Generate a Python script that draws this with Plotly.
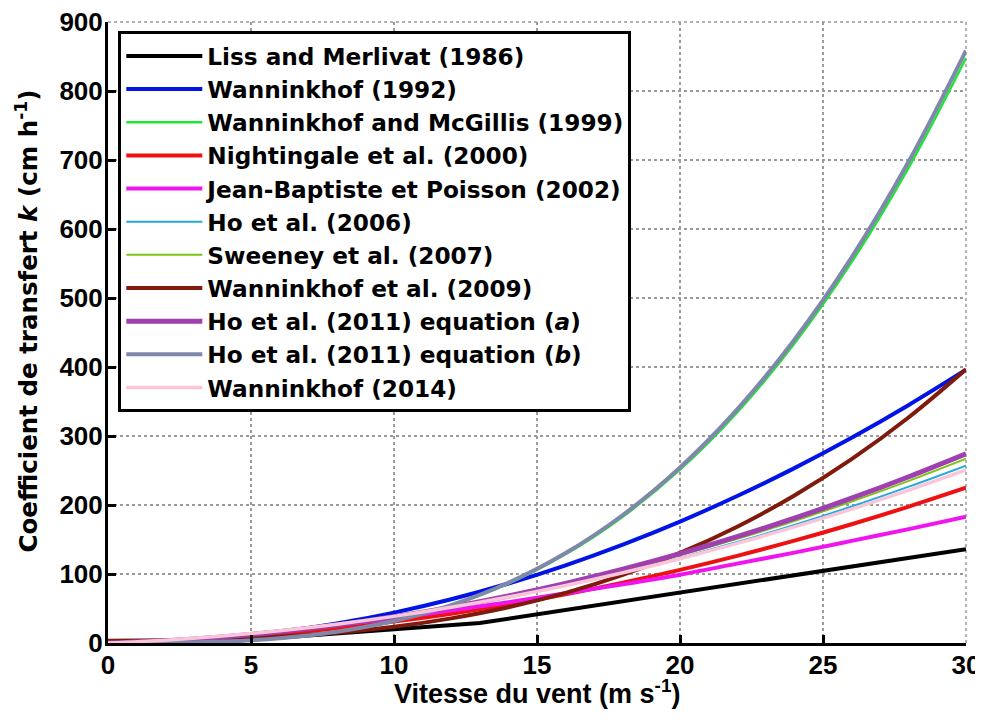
import plotly.graph_objects as go

# Wind speed grid (m/s)
wind = [0, 2, 4, 6, 8, 10, 12, 14, 16, 18, 20, 22, 24, 26, 28, 30]
wind_lm = [0, 3.6, 13, 30]

k_liss_merlivat_1986 = [0, 0.65, 29, 136]
k_wanninkhof_1992 = [0, 1.8, 7.0, 15.8, 28.2, 44, 63.4, 86.2, 112.6, 142.6, 176, 213, 253.4, 297.4, 345, 396]
k_wanninkhof_mcgillis_1999 = [0, 0.25, 2.0, 6.8, 16.1, 31.4, 54.3, 86.2, 128.6, 183.1, 251.2, 334.3, 434.1, 551.9, 689.3, 847.8]
k_nightingale_2000 = [0, 2.7, 7.1, 13.3, 21.3, 31, 42.5, 55.7, 70.7, 87.5, 106, 126.3, 148.3, 172.1, 197.7, 225]
k_jean_baptiste_2002 = [0.5, 3, 9, 17, 26, 36, 47, 59, 72, 85, 99, 115, 131, 148, 165, 183]
k_ho_2006 = [0, 3.7, 9.3, 16.9, 26.3, 37.7, 51, 66.2, 83.4, 102.4, 123.4, 146.3, 171.1, 197.8, 226.6, 257.1]
k_sweeney_2007 = [0, 3.5, 9.1, 16.7, 26.3, 38, 51.7, 67.5, 85.3, 105.1, 127, 150.9, 176.9, 204.9, 234.9, 267]
k_wanninkhof_2009 = [3.3, 3.9, 5.6, 9.1, 14.9, 23.5, 35.7, 51.8, 72.6, 98.7, 130.5, 168.6, 213.8, 266.4, 327.2, 396.7]
k_ho_2011a = [0, 3.3, 8.8, 16.4, 26.1, 38, 52, 68.2, 86.4, 106.9, 129.4, 154.1, 180.9, 209.9, 241, 274.2]
k_ho_2011b = [0, 0.25, 2.0, 6.9, 16.3, 31.8, 55, 87.3, 130.3, 185.5, 254.4, 338.6, 439.6, 558.9, 698.1, 858.6]
k_wanninkhof_2014 = [0, 4.1, 10, 17.8, 27.3, 38.6, 51.7, 66.6, 83.4, 101.9, 122.2, 144.3, 168.2, 194, 221.5, 250.8]

x_ticks = [0, 5, 10, 15, 20, 25, 30]
y_ticks = [0, 100, 200, 300, 400, 500, 600, 700, 800, 900]

x_title = "Vitesse du vent (m s<sup>-1</sup>)"
y_title = "Coefficient de transfert <i>k</i> (cm h<sup>-1</sup>)"

series = [
    ("Liss and Merlivat (1986)", wind_lm, k_liss_merlivat_1986, "#000000", 4, "linear"),
    ("Wanninkhof (1992)", wind, k_wanninkhof_1992, "#0014E6", 4, "spline"),
    ("Wanninkhof and McGillis (1999)", wind, k_wanninkhof_mcgillis_1999, "#1EE632", 2.5, "spline"),
    ("Nightingale et al. (2000)", wind, k_nightingale_2000, "#EE1111", 4, "spline"),
    ("Jean-Baptiste et Poisson (2002)", wind, k_jean_baptiste_2002, "#F014EE", 4, "spline"),
    ("Ho et al. (2006)", wind, k_ho_2006, "#22AADD", 2, "spline"),
    ("Sweeney et al. (2007)", wind, k_sweeney_2007, "#7CC414", 2, "spline"),
    ("Wanninkhof et al. (2009)", wind, k_wanninkhof_2009, "#801A0C", 4, "spline"),
    ("Ho et al. (2011) equation (<i>a</i>)", wind, k_ho_2011a, "#A040B0", 5, "spline"),
    ("Ho et al. (2011) equation (<i>b</i>)", wind, k_ho_2011b, "#7F88AA", 4, "spline"),
    ("Wanninkhof (2014)", wind, k_wanninkhof_2014, "#F8C6D8", 3.5, "spline"),
]

fig = go.Figure()
for name, xs, ys, color, width, shape in series:
    fig.add_trace(go.Scatter(x=xs, y=ys, mode="lines", name=name,
                             line=dict(color=color, width=width, shape=shape)))

font_main = "Liberation Sans, Arial, sans-serif"
font_wide = "DejaVu Sans, Liberation Sans, sans-serif"
grid_color = "#9a9a9a"

# the page body adds an 8px offset, so the figure is 8px smaller on each axis
fig.update_layout(
    width=975, height=715,
    margin=dict(l=100, r=17, t=14, b=80),
    paper_bgcolor="white", plot_bgcolor="white",
    font=dict(family=font_main, color="black"),
    showlegend=True,
    legend=dict(
        x=0.012, y=0.985, xanchor="left", yanchor="top",
        bgcolor="white", bordercolor="black", borderwidth=3,
        font=dict(family=font_wide, size=23.2, color="black", weight="bold"),
        itemwidth=76, tracegroupgap=0,
    ),
    xaxis=dict(
        range=[0, 30], tickvals=x_ticks, ticktext=[str(v) for v in x_ticks],
        showgrid=True, gridcolor=grid_color, griddash="dot", gridwidth=1.5,
        showline=True, linecolor="black", linewidth=3, mirror=False,
        ticks="inside", ticklen=8, tickwidth=3, tickcolor="black",
        tickfont=dict(family=font_main, size=26, weight="bold"),
        ticklabelstandoff=-3, ticklabeloverflow="allow",
        zeroline=False, automargin=False,
    ),
    yaxis=dict(
        range=[0, 900], tickvals=y_ticks, ticktext=[str(v) for v in y_ticks],
        showgrid=True, gridcolor=grid_color, griddash="dot", gridwidth=1.5,
        showline=True, linecolor="black", linewidth=3, mirror=False,
        ticks="inside", ticklen=8, tickwidth=3, tickcolor="black",
        tickfont=dict(family=font_main, size=26, weight="bold"),
        ticklabelstandoff=-3, ticklabeloverflow="allow",
        zeroline=False, automargin=False,
    ),
    shapes=[
        dict(type="line", xref="paper", yref="paper", x0=0, x1=1, y0=1, y1=1,
             line=dict(color=grid_color, width=1.5, dash="dot"), layer="below"),
        dict(type="line", xref="paper", yref="paper", x0=1, x1=1, y0=0, y1=1,
             line=dict(color=grid_color, width=1.5, dash="dot"), layer="below"),
    ],
    annotations=[
        dict(text=x_title, xref="paper", yref="paper", x=0.5, y=0,
             xanchor="center", yanchor="middle", yshift=-49, showarrow=False,
             font=dict(family=font_main, size=27, weight="bold", color="black")),
        dict(text=y_title, xref="paper", yref="paper", x=0, y=0.5,
             xanchor="center", yanchor="middle", xshift=-82, yshift=11,
             textangle=-90, showarrow=False,
             font=dict(family=font_wide, size=24.5, weight="bold", color="black")),
    ],
)

fig.write_html("out.html")
